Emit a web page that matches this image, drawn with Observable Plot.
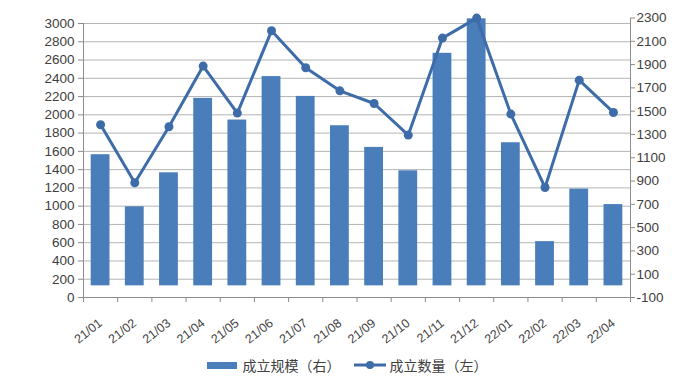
<!DOCTYPE html>
<html>
<head>
<meta charset="utf-8">
<script src="https://cdn.jsdelivr.net/npm/d3@7"></script>
<script src="https://cdn.jsdelivr.net/npm/@observablehq/plot@0.6"></script>
<style>
  html, body { margin: 0; padding: 0; background: #fff; }
  #wrap { width: 700px; }
  #legend { display: flex; justify-content: center; align-items: center; height: 34px;
    font-family: "Noto Sans CJK SC", sans-serif; font-size: 14px; color: #404040; padding-right: 6px; }
</style>
</head>
<body>
<div id="wrap">
  <div id="chart"></div>
  <div id="legend"></div>
</div>
<script>
const months = ["21/01","21/02","21/03","21/04","21/05","21/06","21/07","21/08","21/09","21/10","21/11","21/12","22/01","22/02","22/03","22/04"];
// 成立规模（右）
const sizeValues = [1126, 679, 971, 1610, 1424, 1797, 1627, 1375, 1189, 988, 1997, 2293, 1229, 380, 831, 698];
// 成立数量（左）
const countValues = [1891, 1256, 1869, 2534, 2019, 2920, 2515, 2263, 2124, 1778, 2840, 3059, 2008, 1205, 2380, 2026];
const leftTicks = [0,200,400,600,800,1000,1200,1400,1600,1800,2000,2200,2400,2600,2800,3000];
const rightTicks = [-100,100,300,500,700,900,1100,1300,1500,1700,1900,2100,2300];
const seriesNames = ["成立规模（右）", "成立数量（左）"];

const barColor = "#4a7ebb";
const lineColor = "#3d6ca9";
const gridColor = "#b4b4b4";
const axisColor = "#8c8c8c";
const textColor = "#404040";

// map right-axis values into left-axis units
const rToL = d3.scaleLinear([-100, 2300], [0, 3060]);

const data = months.map((m, i) => ({i, m, size: sizeValues[i], count: countValues[i]}));

const chart = Plot.plot({
  width: 700,
  height: 348,
  marginLeft: 83,
  marginRight: 70,
  marginTop: 23,
  marginBottom: 51,
  x: {type: "linear", domain: [0, months.length], axis: null},
  y: {domain: [0, 3000], axis: null},
  style: {fontFamily: "'Liberation Sans', Arial, sans-serif", fontSize: "13px", color: textColor, background: "#fff"},
  marks: [
    Plot.ruleY(leftTicks.slice(1), {stroke: gridColor, strokeWidth: 1}),
    Plot.rectY(data, {
      x1: d => d.i + 0.225, x2: d => d.i + 0.775,
      y1: d => rToL(0), y2: d => rToL(d.size),
      fill: barColor
    }),
    Plot.ruleY([0], {stroke: axisColor}),
    Plot.ruleX([0], {y1: 0, y2: 3000, stroke: axisColor}),
    Plot.ruleX([months.length], {y1: 0, y2: rToL(2300), stroke: axisColor}),
    Plot.axisY({anchor: "left", ticks: leftTicks, tickFormat: d => String(d), tickSize: 5, tickPadding: 4, label: null,
      stroke: axisColor, fill: textColor, fontSize: 13.5}),
    Plot.axisY({anchor: "right", ticks: rightTicks.map(v => rToL(v)),
      tickFormat: d => String(Math.round(rToL.invert(d))),
      tickSize: 4, tickPadding: 2, label: null, stroke: axisColor, fill: textColor, fontSize: 13.5}),
    Plot.axisX({ticks: d3.range(0, months.length + 1), tickSize: 5, tickFormat: () => "", label: null, stroke: axisColor}),
    Plot.axisX({ticks: data.map(d => d.i + 0.5), tickFormat: d => months[Math.round(d - 0.5)],
      tickSize: 0, tickRotate: -38, tickPadding: 24, label: null, fill: textColor, fontSize: 12.5}),
    Plot.line(data, {x: d => d.i + 0.5, y: "count", stroke: lineColor, strokeWidth: 3}),
    Plot.dot(data, {x: d => d.i + 0.5, y: "count", r: 4.5, fill: lineColor, stroke: "none"})
  ]
});
document.getElementById("chart").appendChild(chart);

const legend = document.getElementById("legend");
legend.innerHTML =
  `<span style="display:inline-block;width:30px;height:7px;background:${barColor};margin-right:6px"></span>` +
  `<span>${seriesNames[0]}</span>` +
  `<svg width="32" height="10" style="margin-left:13px;margin-right:4px">` +
  `<line x1="0" x2="32" y1="5" y2="5" stroke="${lineColor}" stroke-width="3"></line>` +
  `<circle cx="16" cy="5" r="4" fill="${lineColor}"></circle></svg>` +
  `<span>${seriesNames[1]}</span>`;
</script>
</body>
</html>
